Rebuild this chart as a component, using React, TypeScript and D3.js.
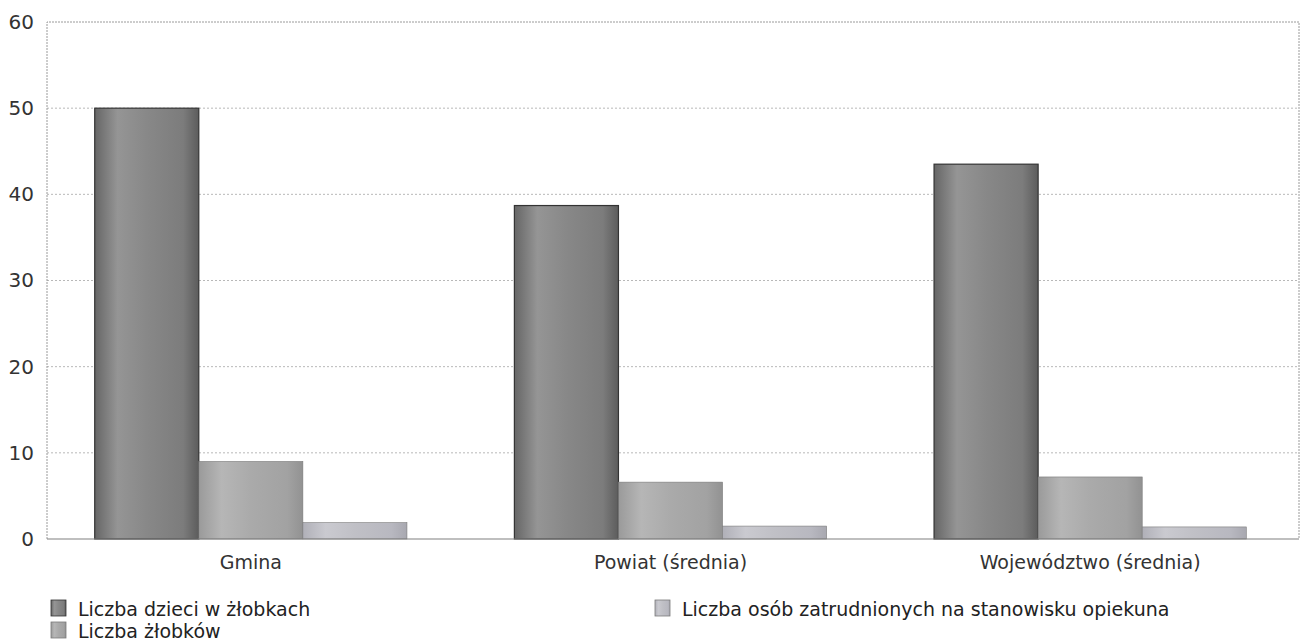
import React, { useEffect, useRef } from "react";
import * as d3 from "d3";

const categories = ["Gmina", "Powiat (średnia)", "Województwo (średnia)"];
const seriesNames = [
  "Liczba dzieci w żłobkach",
  "Liczba żłobków",
  "Liczba osób zatrudnionych na stanowisku opiekuna",
];
const dzieci = [50, 38.7, 43.5];
const zlobki = [9, 6.6, 7.2];
const opiekunowie = [1.9, 1.5, 1.4];
const yTicks = [0, 10, 20, 30, 40, 50, 60];

const FONT = "'DejaVu Sans', Verdana, sans-serif";

export default function App() {
  const svgRef = useRef<SVGSVGElement | null>(null);
  const width = 1303;
  const height = 644;

  useEffect(() => {
    if (!svgRef.current) return;
    const svg = d3.select(svgRef.current);
    svg.selectAll("*").remove();

    const plotLeft = 47;
    const plotRight = 1299;
    const plotTop = 22;
    const plotBottom = 539;

    const series = [dzieci, zlobki, opiekunowie];

    // subtle shading per series (scan-like, not glossy)
    const shades = [
      ["#666666", "#959595", "#888888", "#7c7c7c", "#5c5c5c"],
      ["#9a9a9a", "#b6b6b6", "#aaaaaa", "#a2a2a2", "#929292"],
      ["#b0b0b8", "#cacad0", "#c0c0c6", "#b8b8c0", "#a8a8b0"],
    ];
    const defs = svg.append("defs");
    shades.forEach((s, i) => {
      const g = defs
        .append("linearGradient")
        .attr("id", `grad${i}`)
        .attr("x1", "0%")
        .attr("x2", "100%")
        .attr("y1", "0%")
        .attr("y2", "0%");
      [0, 0.22, 0.5, 0.85, 1].forEach((o, j) => {
        g.append("stop").attr("offset", `${o * 100}%`).attr("stop-color", s[j]);
      });
    });

    const y = d3.scaleLinear().domain([0, 60]).range([plotBottom, plotTop]);
    const x0 = d3
      .scaleBand<string>()
      .domain(categories)
      .range([41, 1300])
      .paddingInner(0.256)
      .paddingOuter(0.128);
    const x1 = d3
      .scaleBand<string>()
      .domain(d3.range(series.length).map(String))
      .range([0, x0.bandwidth()])
      .padding(0);

    // grid
    svg
      .append("g")
      .selectAll("line")
      .data(yTicks.filter((t) => t > 0 && t < 60))
      .enter()
      .append("line")
      .attr("x1", plotLeft)
      .attr("x2", plotRight)
      .attr("y1", (d) => y(d))
      .attr("y2", (d) => y(d))
      .attr("stroke", "#b8b8b8")
      .attr("stroke-width", 1)
      .attr("stroke-dasharray", "2,2");

    // frame (top, left, right dotted)
    svg
      .append("path")
      .attr("d", `M${plotLeft},${plotBottom}V${plotTop}H${plotRight}V${plotBottom}`)
      .attr("fill", "none")
      .attr("stroke", "#9a9a9a")
      .attr("stroke-width", 1)
      .attr("stroke-dasharray", "2,1");

    // bars
    const groups = svg
      .append("g")
      .selectAll("g")
      .data(categories)
      .enter()
      .append("g")
      .attr("transform", (d) => `translate(${x0(d)},0)`);

    groups
      .selectAll("rect")
      .data((_, ci) => series.map((s, si) => ({ value: s[ci], si })))
      .enter()
      .append("rect")
      .attr("x", (d) => x1(String(d.si))!)
      .attr("width", x1.bandwidth())
      .attr("y", (d) => y(d.value))
      .attr("height", (d) => plotBottom - y(d.value))
      .attr("fill", (d) => `url(#grad${d.si})`)
      .attr("stroke", (d) => (d.si === 0 ? "#333333" : "#7a7a7a"))
      .attr("stroke-width", (d) => (d.si === 0 ? 1.2 : 0.6));

    // baseline
    svg
      .append("line")
      .attr("x1", plotLeft)
      .attr("x2", plotRight)
      .attr("y1", plotBottom)
      .attr("y2", plotBottom)
      .attr("stroke", "#808080")
      .attr("stroke-width", 1.2);

    // y axis labels
    const yAxis = svg
      .append("g")
      .attr("transform", `translate(${plotLeft - 13},0)`)
      .call(d3.axisLeft(y).tickValues(yTicks).tickSize(0).tickPadding(0));
    yAxis.select(".domain").remove();
    yAxis
      .selectAll("text")
      .attr("font-family", FONT)
      .attr("font-size", 20)
      .attr("fill", "#333");

    // x axis labels
    const xAxis = svg
      .append("g")
      .attr("transform", `translate(0,${plotBottom + 16})`)
      .call(d3.axisBottom(x0).tickSize(0).tickPadding(0));
    xAxis.select(".domain").remove();
    xAxis
      .selectAll("text")
      .attr("font-family", FONT)
      .attr("font-size", 19)
      .attr("fill", "#333")
      .attr("dy", "0.71em");

    // legend
    const legendPos = [
      { x: 51, y: 600 },
      { x: 51, y: 622 },
      { x: 655, y: 600 },
    ];
    const legend = svg
      .append("g")
      .selectAll("g")
      .data(seriesNames)
      .enter()
      .append("g")
      .attr("transform", (_, i) => `translate(${legendPos[i].x},${legendPos[i].y})`);
    legend
      .append("rect")
      .attr("width", 15)
      .attr("height", 16)
      .attr("fill", (_, i) => `url(#grad${i})`)
      .attr("stroke", (_, i) => (i === 0 ? "#333333" : "#7a7a7a"))
      .attr("stroke-width", 0.8);
    legend
      .append("text")
      .attr("x", 27)
      .attr("y", 16)
      .attr("font-family", FONT)
      .attr("font-size", 19)
      .attr("fill", "#222")
      .text((d) => d);
  }, []);

  return (
    <svg
      ref={svgRef}
      width={width}
      height={height}
      style={{ position: "absolute", left: 0, top: 0, background: "#fff" }}
    />
  );
}
